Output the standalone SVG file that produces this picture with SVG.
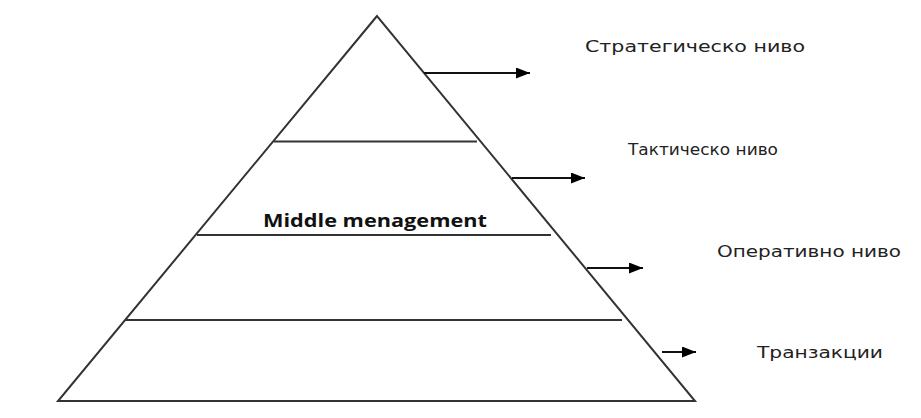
<svg xmlns="http://www.w3.org/2000/svg" width="921" height="418" viewBox="0 0 921 418">
<style>
.edge{stroke:#333;stroke-width:2;fill:none}
.conn{stroke:#111;stroke-width:2;fill:none}
.lbl{font-family:"DejaVu Sans",sans-serif;font-size:15px;fill:#222}
.bold{font-family:"Open Sans","Liberation Sans",sans-serif;font-size:17px;font-weight:bold;fill:#111}
</style>
<defs>
<marker id="ah" markerWidth="8" markerHeight="8" refX="8" refY="4" orient="auto" markerUnits="userSpaceOnUse" viewBox="0 0 8 8">
<path d="M0,0 L8,4 L0,8 z" fill="#000"/>
</marker>
<marker id="ahb" markerWidth="14" markerHeight="11" refX="14" refY="5.5" orient="auto" markerUnits="userSpaceOnUse" viewBox="0 0 14 11">
<path d="M0,0 L14,5.5 L0,11 z" fill="#000"/>
</marker>
</defs>
<rect width="921" height="418" fill="#fff"/>
<g id="pyramid">
<polygon class="edge" points="377,16 58,401 695,401" stroke-linejoin="miter"/>
<line class="edge" x1="274" y1="141.5" x2="477" y2="141.5"/>
<line class="edge" x1="197" y1="235" x2="551" y2="235"/>
<line class="edge" x1="125" y1="320" x2="622" y2="320"/>
</g>
<g id="middle">
<text class="bold" x="263" y="227" textLength="224" lengthAdjust="spacingAndGlyphs">Middle menagement</text>
</g>
<g id="connectors">
<line class="conn" x1="424" y1="73" x2="530" y2="73" marker-end="url(#ahb)"/>
<line class="conn" x1="512" y1="178" x2="585" y2="178" marker-end="url(#ahb)"/>
<line class="conn" x1="587" y1="268" x2="643" y2="268" marker-end="url(#ahb)"/>
<line class="conn" x1="662" y1="352" x2="696" y2="352" marker-end="url(#ahb)"/>
</g>
<g id="strategic">
<text class="lbl" x="585" y="52" textLength="220" lengthAdjust="spacingAndGlyphs">Стратегическо ниво</text>
</g>
<g id="tactical">
<text class="lbl" x="628" y="155" textLength="150" lengthAdjust="spacingAndGlyphs">Тактическо ниво</text>
</g>
<g id="operational">
<text class="lbl" x="717" y="257" textLength="184" lengthAdjust="spacingAndGlyphs">Оперативно ниво</text>
</g>
<g id="transactions">
<text class="lbl" x="757" y="358" textLength="126" lengthAdjust="spacingAndGlyphs">Транзакции</text>
</g>
</svg>
